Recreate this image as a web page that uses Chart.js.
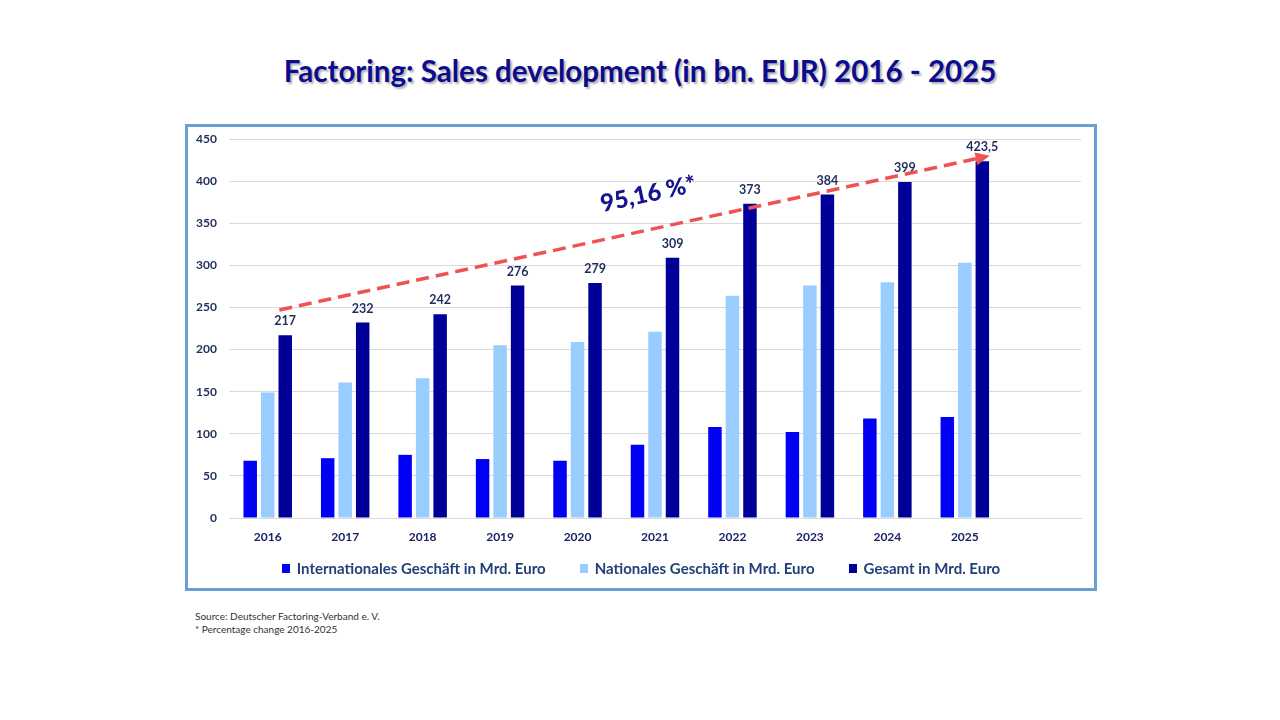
<!DOCTYPE html>
<html>
<head>
<meta charset="utf-8">
<script src="https://cdn.jsdelivr.net/npm/chart.js@4/dist/chart.umd.min.js"></script>
<style>
  html, body { margin: 0; padding: 0; background: #ffffff; }
  body { width: 1280px; height: 720px; position: relative; overflow: hidden; font-family: Lato, "Open Sans", sans-serif; }
  #title { position: absolute; left: 0; top: 51px; width: 1280px; text-align: center; font-size: 29.5px; font-weight: 700; color: #0c0c8e; text-shadow: 2px 2px 2px rgba(0,0,0,0.3); line-height: 40px; }
  #box { position: absolute; left: 185px; top: 124px; width: 912px; height: 467px; border: 3px solid #6a9fd4; box-sizing: border-box; }
  #chart { position: absolute; left: 188px; top: 127px; }
  #legend { position: absolute; left: 188px; top: 557px; width: 906px; display: flex; justify-content: center; gap: 34px; font-size: 15px; font-weight: 700; color: #23407A; line-height: 22px; }
  #legend .item { display: flex; align-items: center; white-space: nowrap; }
  #legend .sw { display: inline-block; width: 8px; height: 9px; margin-right: 7px; }
  #source { position: absolute; left: 195px; top: 610px; font-size: 10px; color: #333; line-height: 13px; }
</style>
</head>
<body>
<div id="title">Factoring: Sales development (in bn. EUR) 2016 - 2025</div>
<div id="box"></div>
<canvas id="chart" width="906" height="461"></canvas>
<div id="legend"></div>
<div id="source">Source: Deutscher Factoring-Verband e. V.<br>* Percentage change 2016-2025</div>
<script>
const years = ['2016','2017','2018','2019','2020','2021','2022','2023','2024','2025'];
const internationalValues = [68, 71, 75, 70, 68, 87, 108, 102, 118, 120];
const nationalValues = [149, 161, 166, 205, 209, 221, 264, 276, 280, 303];
const totalValues = [217, 232, 242, 276, 279, 309, 373, 384, 399, 423.5];
const seriesNames = ['Internationales Geschäft in Mrd. Euro', 'Nationales Geschäft in Mrd. Euro', 'Gesamt in Mrd. Euro'];
const seriesColors = ['#0000F5', '#99CCFF', '#000099'];
const yTicks = [0, 50, 100, 150, 200, 250, 300, 350, 400, 450];

// trend arrow annotation (data units: category index + shift, value)
const arrowFrom = { index: 0, shift: 0.15, value: 247 };
const arrowTo = { index: 9, shift: 0.32, value: 430 };

const fmt = v => String(v).replace('.', ',');
const pctChange = ((totalValues[totalValues.length - 1] / totalValues[0] - 1) * 100).toFixed(2).replace('.', ',') + ' %*';

const labelColor = '#1F2D5A';

const totalLabels = {
  id: 'totalLabels',
  afterDatasetsDraw(chart) {
    const ctx = chart.ctx;
    const meta = chart.getDatasetMeta(2);
    ctx.save();
    ctx.font = 'bold 12.5px Lato';
    ctx.fillStyle = labelColor;
    ctx.textAlign = 'center';
    ctx.textBaseline = 'middle';
    meta.data.forEach((bar, i) => {
      ctx.fillText(fmt(totalValues[i]), bar.x, bar.y - 14);
    });
    ctx.restore();

    // arrow
    const xs = chart.scales.x, ys = chart.scales.y;
    const x1 = xs.getPixelForValue(arrowFrom.index + arrowFrom.shift);
    const y1 = ys.getPixelForValue(arrowFrom.value);
    const x2 = xs.getPixelForValue(arrowTo.index + arrowTo.shift);
    const y2 = ys.getPixelForValue(arrowTo.value);
    const ang = Math.atan2(y2 - y1, x2 - x1);
    const headLen = 14, headW = 6.5;
    const bx = x2 - headLen * Math.cos(ang), by = y2 - headLen * Math.sin(ang);
    ctx.save();
    ctx.strokeStyle = '#EE5252';
    ctx.lineWidth = 3.5;
    ctx.setLineDash([13, 7]);
    ctx.beginPath();
    ctx.moveTo(x1, y1);
    ctx.lineTo(bx, by);
    ctx.stroke();
    ctx.setLineDash([]);
    ctx.fillStyle = '#EE5252';
    ctx.beginPath();
    ctx.moveTo(x2, y2);
    ctx.lineTo(bx + headW * Math.sin(ang), by - headW * Math.cos(ang));
    ctx.lineTo(bx - headW * Math.sin(ang), by + headW * Math.cos(ang));
    ctx.closePath();
    ctx.fill();

    // percentage label
    const t = 0.53;
    const mx = x1 + (x2 - x1) * t, my = y1 + (y2 - y1) * t;
    const off = 35;
    const tx = mx + off * Math.sin(ang), ty = my - off * Math.cos(ang);
    ctx.translate(tx, ty);
    ctx.rotate(ang);
    ctx.font = '900 24px Lato';
    ctx.fillStyle = '#14148C';
    ctx.textAlign = 'center';
    ctx.textBaseline = 'middle';
    ctx.fillText(pctChange, 0, 0);
    ctx.restore();
  }
};

const chart = new Chart(document.getElementById('chart'), {
  type: 'bar',
  data: {
    labels: [...years, ''],
    datasets: [
      { label: seriesNames[0], data: internationalValues, backgroundColor: seriesColors[0] },
      { label: seriesNames[1], data: nationalValues, backgroundColor: seriesColors[1] },
      { label: seriesNames[2], data: totalValues, backgroundColor: seriesColors[2] }
    ]
  },
  options: {
    responsive: false,
    animation: false,
    devicePixelRatio: 1,
    datasets: { bar: { categoryPercentage: 0.678, barPercentage: 0.77 } },
    layout: { padding: { left: 0, right: 13, top: 12, bottom: 42 } },
    scales: {
      x: {
        grid: { display: false, drawTicks: false },
        border: { color: '#D9D9D9', width: 1 },
        ticks: { font: { family: 'Lato', size: 12, weight: 'bold' }, color: '#1A2466', padding: 12, maxRotation: 0, autoSkip: false },
        afterFit(scale) { scale.height = 28; scale.paddingLeft = 0; scale.paddingRight = 0; }
      },
      y: {
        min: 0, max: 450,
        afterBuildTicks(scale) { scale.ticks = yTicks.map(v => ({ value: v })); },
        grid: { color: '#D9D9D9', drawTicks: false, lineWidth: 1 },
        border: { display: false },
        ticks: { font: { family: 'Lato', size: 12, weight: 'bold' }, color: labelColor, padding: 12 },
        afterFit(scale) { scale.width = 41; scale.paddingTop = 0; scale.paddingBottom = 0; }
      }
    },
    plugins: {
      legend: { display: false },
      tooltip: { enabled: false }
    }
  },
  plugins: [totalLabels]
});

// HTML legend built from the chart's datasets
const legendEl = document.getElementById('legend');
chart.data.datasets.forEach(ds => {
  const item = document.createElement('div');
  item.className = 'item';
  const sw = document.createElement('span');
  sw.className = 'sw';
  sw.style.background = ds.backgroundColor;
  const txt = document.createElement('span');
  txt.textContent = ds.label;
  item.appendChild(sw);
  item.appendChild(txt);
  legendEl.appendChild(item);
});
</script>
</body>
</html>
